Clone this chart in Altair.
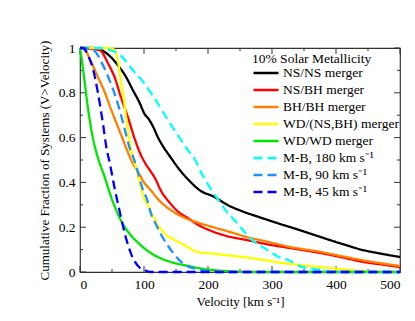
import altair as alt
import pandas as pd

SERIES = ["NS/NS merger", "NS/BH merger", "BH/BH merger", "WD/(NS,BH) merger",
          "WD/WD merger", "M-B, 180 km s⁻¹", "M-B, 90 km s⁻¹", "M-B, 45 km s⁻¹"]
COLORS = ["#000000", "#ff0000", "#ff7f00", "#ffff00", "#00e600", "#00ffff", "#1e90ff", "#0000ff"]
DASHES = [[1, 0], [1, 0], [1, 0], [1, 0], [1, 0], [9, 5], [9, 5], [9, 5]]

ns_ns_v = [0, 20, 30, 48, 60, 70, 83, 94, 100, 108, 114, 122, 130, 142, 156, 170, 187, 210, 230, 250, 280, 312, 340, 375, 410, 442, 470, 500]
ns_ns_f = [1.0, 1.0, 0.995, 0.96, 0.92, 0.88, 0.81, 0.75, 0.71, 0.68, 0.65, 0.60, 0.56, 0.51, 0.455, 0.41, 0.365, 0.335, 0.30, 0.275, 0.245, 0.215, 0.19, 0.157, 0.125, 0.098, 0.082, 0.067]

ns_bh_v = [0, 20, 31, 44, 54, 64, 75, 86, 94, 101, 109, 117, 127, 140, 153, 169, 185, 208, 230, 260, 290, 328, 375, 410, 442, 475, 500]
ns_bh_f = [1.0, 0.995, 0.99, 0.93, 0.87, 0.78, 0.69, 0.59, 0.53, 0.49, 0.455, 0.42, 0.36, 0.31, 0.27, 0.24, 0.21, 0.18, 0.16, 0.143, 0.125, 0.107, 0.085, 0.065, 0.045, 0.032, 0.022]

bh_bh_v = [0, 8, 17, 28, 39, 48, 59, 70, 80, 94, 100, 109, 127, 140, 161, 185, 208, 235, 260, 290, 328, 375, 410, 442, 475, 500]
bh_bh_f = [1.0, 0.99, 0.94, 0.87, 0.80, 0.73, 0.65, 0.57, 0.50, 0.43, 0.40, 0.37, 0.31, 0.28, 0.245, 0.22, 0.20, 0.178, 0.157, 0.137, 0.112, 0.09, 0.07, 0.052, 0.037, 0.027]

wd_nsbh_v = [0, 45, 52, 56, 60, 65, 68, 72, 78, 83, 88, 93, 100, 106, 114, 122, 133, 148, 160, 169, 182, 208, 230, 260, 290, 312, 340, 375, 410, 442, 470, 500]
wd_nsbh_f = [1.0, 1.0, 0.995, 0.98, 0.93, 0.83, 0.78, 0.69, 0.58, 0.51, 0.46, 0.40, 0.33, 0.30, 0.25, 0.21, 0.17, 0.143, 0.125, 0.11, 0.09, 0.082, 0.075, 0.065, 0.052, 0.042, 0.032, 0.022, 0.012, 0.005, 0.0, 0.0]

wd_wd_v = [0, 5, 12, 20, 28, 39, 48, 56, 64, 75, 91, 108, 127, 148, 169, 190, 210, 240, 260, 500]
wd_wd_f = [1.0, 0.90, 0.74, 0.60, 0.51, 0.42, 0.34, 0.28, 0.23, 0.18, 0.13, 0.09, 0.06, 0.04, 0.027, 0.015, 0.008, 0.002, 0.0, 0.0]

mb180_v = [0, 30, 48, 64, 80, 101, 122, 137, 153, 167, 180, 190, 198, 208, 219, 229, 245, 266, 292, 312, 328, 344, 375, 400, 500]
mb180_f = [1.0, 1.0, 0.99, 0.965, 0.91, 0.84, 0.75, 0.68, 0.61, 0.55, 0.50, 0.44, 0.40, 0.355, 0.31, 0.27, 0.22, 0.15, 0.10, 0.065, 0.05, 0.025, 0.01, 0.0, 0.0]

mb90_v = [0, 17, 25, 33, 47, 56, 67, 78, 86, 91, 98, 104, 111, 120, 127, 138, 148, 164, 180, 200, 220, 500]
mb90_f = [1.0, 0.995, 0.98, 0.94, 0.85, 0.78, 0.67, 0.55, 0.49, 0.44, 0.37, 0.33, 0.26, 0.205, 0.165, 0.115, 0.076, 0.032, 0.015, 0.004, 0.0, 0.0]

mb45_v = [0, 5, 12, 20, 28, 36, 41, 47, 54, 62, 72, 80, 86, 93, 101, 110, 500]
mb45_f = [1.0, 1.0, 0.97, 0.91, 0.80, 0.66, 0.56, 0.48, 0.375, 0.27, 0.15, 0.08, 0.045, 0.02, 0.008, 0.0, 0.0]

X_MAJOR = [0, 100, 200, 300, 400, 500]
X_MINOR = [50, 150, 250, 350, 450]
Y_MAJOR = [0, 0.2, 0.4, 0.6, 0.8, 1.0]
Y_MINOR = [0.1, 0.3, 0.5, 0.7, 0.9]

vs = [ns_ns_v, ns_bh_v, bh_bh_v, wd_nsbh_v, wd_wd_v, mb180_v, mb90_v, mb45_v]
fs = [ns_ns_f, ns_bh_f, bh_bh_f, wd_nsbh_f, wd_wd_f, mb180_f, mb90_f, mb45_f]
rows = []
for i, (name, v, f) in enumerate(zip(SERIES, vs, fs)):
    for j, (a, b) in enumerate(zip(v, f)):
        rows.append({"series": name, "order": i, "idx": j, "v": a, "f": b})
df = pd.DataFrame(rows)

FONT = "Liberation Serif"
xs = alt.Scale(domain=[0, 500], nice=False)
ys = alt.Scale(domain=[0, 1], nice=False)

lines = alt.Chart(df).mark_line(strokeWidth=2.3, interpolate="monotone").encode(
    x=alt.X("v:Q", scale=xs, title="Velocity [km s⁻¹]",
            axis=alt.Axis(values=X_MAJOR, ticks=False, domain=False, grid=False,
                          labelPadding=5, titlePadding=5)),
    y=alt.Y("f:Q", scale=ys, title="Cumulative Fraction of Systems (V>Velocity)",
            axis=alt.Axis(values=Y_MAJOR, format="~g", ticks=False, domain=False, grid=False,
                          labelPadding=5, titlePadding=7)),
    color=alt.Color("series:N", scale=alt.Scale(domain=SERIES, range=COLORS),
                    sort=SERIES, title="10% Solar Metallicity",
                    legend=alt.Legend(orient="none", legendX=172, legendY=4,
                                      symbolType="stroke", symbolSize=625,
                                      symbolStrokeWidth=2.5, rowPadding=2,
                                      clipHeight=15,
                                      labelFont=FONT, labelFontSize=13.5,
                                      titleFont=FONT, titleFontSize=13.5,
                                      titleFontWeight="normal", titlePadding=0,
                                      labelOffset=3, labelColor="black", titleColor="black")),
    strokeDash=alt.StrokeDash("series:N", scale=alt.Scale(domain=SERIES, range=DASHES),
                              sort=SERIES, title="10% Solar Metallicity"),
    order=alt.Order("idx:Q"),
)

xmaj = pd.DataFrame({"t": X_MAJOR})
xmin = pd.DataFrame({"t": X_MINOR})
ymaj = pd.DataFrame({"t": Y_MAJOR})
ymin = pd.DataFrame({"t": Y_MINOR})

def xticks(d, L):
    b = alt.Chart(d).mark_rule(color="#333", strokeWidth=1).encode(
        x=alt.X("t:Q", scale=xs), y=alt.value(224), y2=alt.value(224 - L))
    t = alt.Chart(d).mark_rule(color="#333", strokeWidth=1).encode(
        x=alt.X("t:Q", scale=xs), y=alt.value(0), y2=alt.value(L))
    return b + t

def yticks(d, L):
    l = alt.Chart(d).mark_rule(color="#333", strokeWidth=1).encode(
        y=alt.Y("t:Q", scale=ys), x=alt.value(0), x2=alt.value(L))
    r = alt.Chart(d).mark_rule(color="#333", strokeWidth=1).encode(
        y=alt.Y("t:Q", scale=ys), x=alt.value(320), x2=alt.value(320 - L))
    return l + r

chart = alt.layer(
    xticks(xmaj, 6), xticks(xmin, 3), yticks(ymaj, 6), yticks(ymin, 3), lines
).properties(
    width=320, height=224,
    background="white",
    autosize=alt.AutoSizeParams(type="none"),
    padding={"left": 72, "top": 40, "right": 7, "bottom": 41},
).configure_view(stroke="#333", strokeWidth=1.2).configure_axis(
    labelFont=FONT, labelFontSize=13.5, labelColor="black",
    titleFont=FONT, titleFontSize=13, titleFontWeight="normal", titleColor="black",
)

chart.save("out.html", embed_options={"renderer": "svg", "actions": False})
